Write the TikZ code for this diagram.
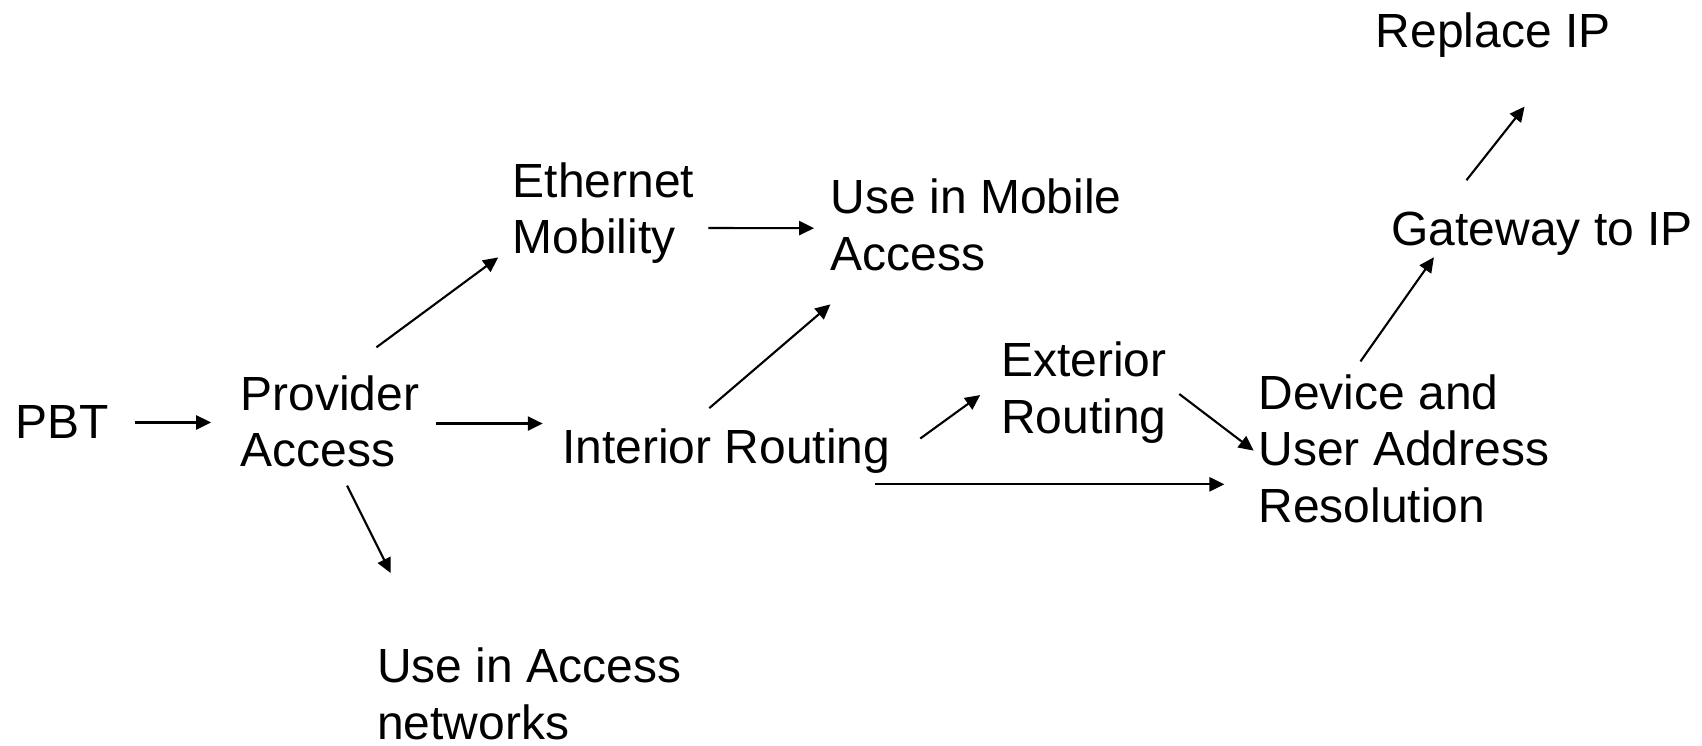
\documentclass[tikz,border=0pt]{standalone}
\usepackage{fontspec}
\setmainfont{Liberation Sans}
\usetikzlibrary{arrows.meta}

\begin{document}
\begin{tikzpicture}[x=0.02171cm,y=-0.02171cm,
  lbl/.style={anchor=north west,inner sep=0pt,outer sep=0pt,align=left,font=\fontsize{27.3}{32.1}\selectfont},
  arr/.style={-{Triangle[length=8.5pt,width=8pt]},line width=1.2pt}]
\useasboundingbox (0,0) rectangle (1568,687.2);
\node [lbl] (pbt) at (14.5,374) {PBT};
\node [lbl] (pa) at (221.5,346) {Provider\\Access};
\node [lbl] (em) at (472.5,150) {Ethernet\\Mobility};
\node [lbl] (uma) at (765.5,165) {Use in Mobile\\Access};
\node [lbl] (ir) at (518,395) {Interior Routing};
\node [lbl] (er) at (922.5,315) {Exterior\\Routing};
\node [lbl] (dua) at (1159.5,345) {Device and\\User Address\\Resolution};
\node [lbl] (gw) at (1282,195) {Gateway to IP};
\node [lbl] (rip) at (1267.5,12) {Replace IP};
\node [lbl] (uan) at (347.5,597) {Use in Access\\networks};
\draw[arr] ([shift={(24,0)}]pbt.east) -- ([shift={(-27,0)}]pbt.east -| pa.west);
\draw[arr] ([shift={(16,2)}]pa.east) -- ([shift={(-18,2)}]pa.east -| ir.west);
\draw[arr] ([shift={(43,-26)}]pa.north) -- ([shift={(-13.5,-6)}]em.south west);
\draw[arr] ([shift={(16,17)}]pa.south) -- ([shift={(12.5,-69)}]uan.north west);
\draw[arr] ([shift={(13,13.5)}]em.east) -- ([shift={(-15.5,3)}]uma.west);
\draw[arr] ([shift={(-15.6,-19)}]ir.north) -- ([shift={(-0.5,31)}]uma.south west);
\draw[arr] ([shift={(27.7,9)}]ir.north east) -- ([shift={(-19.5,2.4)}]er.west);
\draw[arr] ([shift={(-14.3,10)}]ir.south east) -- ([shift={(-31.5,10)}]ir.south east -| dua.west);
\draw[arr] ([shift={(11.6,1.4)}]er.east) -- ([shift={(-4.5,2)}]dua.west);
\draw[arr] ([shift={(-40,-12)}]dua.north) -- ([shift={(39,2)}]gw.south west);
\draw[arr] ([shift={(69,-29)}]gw.north west) -- ([shift={(29,45)}]rip.south);
\end{tikzpicture}
\end{document}
